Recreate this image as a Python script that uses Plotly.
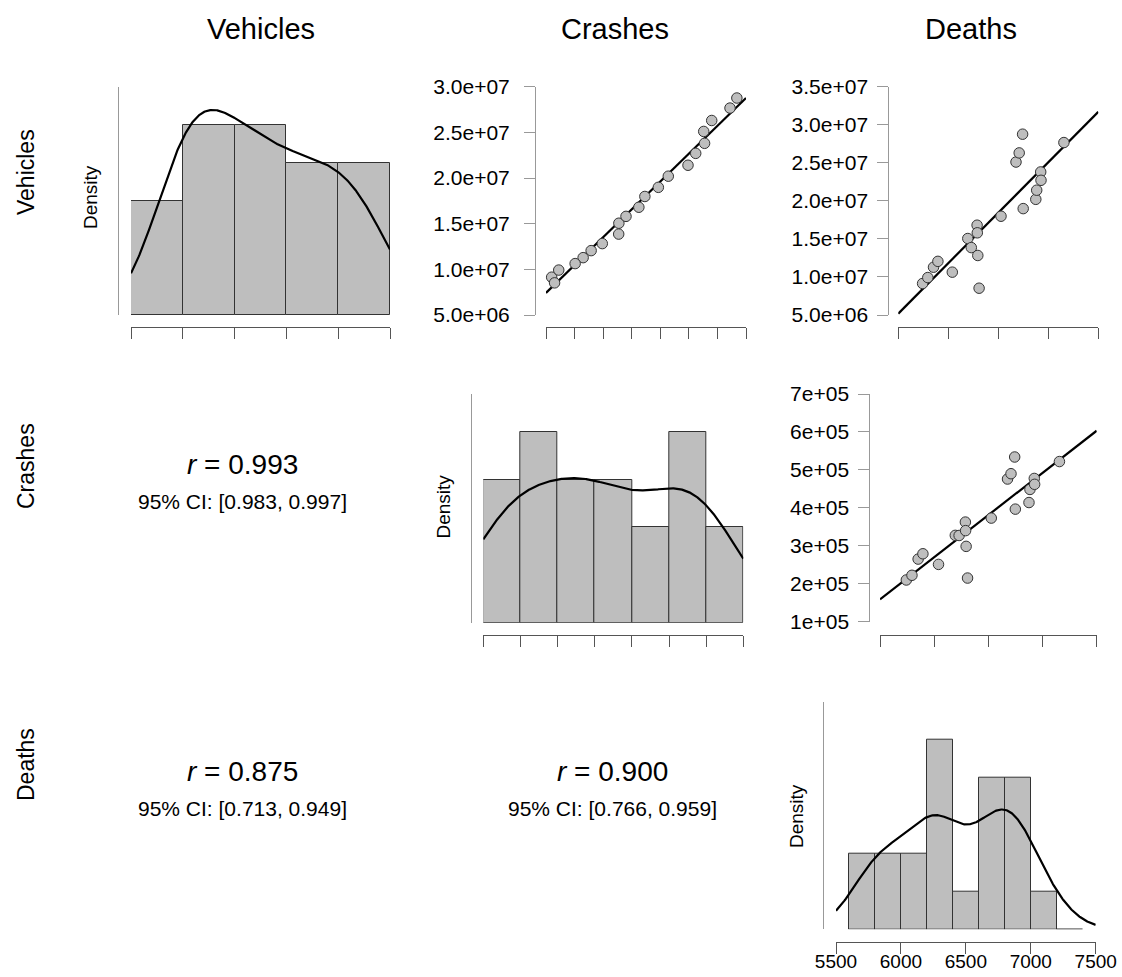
import numpy as np
import plotly.graph_objects as go

W, H = 1122, 977

# ---------------- data ----------------
variables = ["Vehicles", "Crashes", "Deaths"]
vehicles = [9.14e6, 9.92e6, 11.28e6, 12.05e6, 10.63e6, 15.05e6, 13.86e6, 16.80e6, 15.80e6, 12.82e6, 8.52e6,
            17.98e6, 25.10e6, 26.30e6, 28.76e6, 18.98e6, 20.20e6, 21.40e6, 23.80e6, 22.70e6, 27.66e6]
crashes = [209.9e3, 222.3e3, 265.0e3, 279.0e3, 251.0e3, 327.5e3, 327.2e3, 362.5e3, 340.0e3, 298.5e3, 215.0e3,
           373.0e3, 476.0e3, 490.0e3, 534.0e3, 396.6e3, 414.0e3, 448.5e3, 477.5e3, 462.0e3, 522.0e3]
deaths = [5743, 5795, 5852, 5896, 6040, 6195, 6230, 6288, 6290, 6295, 6308,
          6527, 6677, 6709, 6743, 6749, 6875, 6884, 6924, 6927, 7156]

vehicles_ticks = [5e6, 10e6, 15e6, 20e6, 25e6, 30e6]
crashes_ticks = [200e3, 250e3, 300e3, 350e3, 400e3, 450e3, 500e3, 550e3]
deaths_ticks = [5500, 6000, 6500, 7000, 7500]
deaths_tick_labels = ["5500", "6000", "6500", "7000", "7500"]

vehicles_bins = [5e6, 10e6, 15e6, 20e6, 25e6, 30e6]
crashes_bins = [200e3, 250e3, 300e3, 350e3, 400e3, 450e3, 500e3, 550e3]
deaths_bins = [5600, 5800, 6000, 6200, 6400, 6600, 6800, 7000, 7200, 7400]

veh_y_ticks_a = [5e6, 10e6, 15e6, 20e6, 25e6, 30e6]
veh_y_labels_a = ["5.0e+06", "1.0e+07", "1.5e+07", "2.0e+07", "2.5e+07", "3.0e+07"]
veh_y_ticks_b = [5e6, 10e6, 15e6, 20e6, 25e6, 30e6, 35e6]
veh_y_labels_b = ["5.0e+06", "1.0e+07", "1.5e+07", "2.0e+07", "2.5e+07", "3.0e+07", "3.5e+07"]
cra_y_ticks = [1e5, 2e5, 3e5, 4e5, 5e5, 6e5, 7e5]
cra_y_labels = ["1e+05", "2e+05", "3e+05", "4e+05", "5e+05", "6e+05", "7e+05"]

r_cells = [(1, 0), (2, 0), (2, 1)]
r_values = ["0.993", "0.875", "0.900"]
ci_values = ["[0.983, 0.997]", "[0.713, 0.949]", "[0.766, 0.959]"]

# ---------------- styling / layout geometry (page pixels) ----------------
FONT = "Liberation Sans, Arial, sans-serif"
BAR_FILL = "#bebebe"
BAR_LINE = "#333333"
AX_COL = "#555555"
YAX_COL = "#999999"

series = [vehicles, crashes, deaths]
xticks = [vehicles_ticks, crashes_ticks, deaths_ticks]
bins = [vehicles_bins, crashes_bins, deaths_bins]

hist_geom = [
    dict(x0=131, x1=390, ytop=87, ybase=315.3, yline_x=118, xline_y=326.7, dens=(90, 197)),
    dict(x0=483.3, x1=743.3, ytop=394, ybase=622.7, yline_x=470.7, xline_y=635, dens=(442.5, 507)),
    dict(x0=836, x1=1095.7, ytop=701.7, ybase=929.3, yline_x=822.7, xline_y=941.7, dens=(796, 816)),
]
scatter_geom = {
    (0, 1): dict(x0=546, x1=746, ytop=86.7, ybot=315, yline_x=535, xline_y=326.7, standoff=10,
                 yt=veh_y_ticks_a, yl=veh_y_labels_a),
    (0, 2): dict(x0=898.3, x1=1098.3, ytop=86.7, ybot=315, yline_x=888.3, xline_y=326.7, standoff=5,
                 yt=veh_y_ticks_b, yl=veh_y_labels_b),
    (1, 2): dict(x0=880, x1=1096.7, ytop=394, ybot=621.7, yline_x=869.3, xline_y=635, standoff=5,
                 yt=cra_y_ticks, yl=cra_y_labels),
}
col_title_pos = [(261, 29), (615, 29), (971, 29)]
row_label_pos = [(26, 172), (26, 466), (26, 765)]
text_col_x = [242, 612]
text_row_y = {1: (464, 501), 2: (771, 808)}


def fx(px):
    return px / W


def fy(py):
    return 1 - py / H


def bw_nrd0(x):
    x = np.asarray(x, float)
    sd = x.std(ddof=1)
    q75, q25 = np.percentile(x, [75, 25])
    lo = min(sd, (q75 - q25) / 1.34)
    return 0.9 * lo * len(x) ** (-0.2)


def kde(x, grid):
    x = np.asarray(x, float)
    h = bw_nrd0(x)
    z = (grid[:, None] - x[None, :]) / h
    return np.exp(-0.5 * z ** 2).sum(axis=1) / (len(x) * h * np.sqrt(2 * np.pi))


fig = go.Figure()
layout = {}
annotations = []
ax_i = 0


def axis_names(i):
    return ("x" if i == 1 else f"x{i}"), ("y" if i == 1 else f"y{i}"), \
           ("xaxis" if i == 1 else f"xaxis{i}"), ("yaxis" if i == 1 else f"yaxis{i}")


# ---------------- histograms on the diagonal ----------------
for k in range(3):
    ax_i += 1
    xr, yr, xk, yk = axis_names(ax_i)
    g = hist_geom[k]
    data = np.asarray(series[k], float)
    edges = np.asarray(bins[k], float)
    counts, _ = np.histogram(data, bins=edges)
    widths = np.diff(edges)
    dens = counts / (len(data) * widths)
    centers = edges[:-1] + widths / 2
    fig.add_trace(go.Bar(x=centers, y=dens, width=widths, xaxis=xr, yaxis=yr,
                         marker=dict(color=BAR_FILL, line=dict(color=BAR_LINE, width=1)),
                         showlegend=False, hoverinfo="skip"))
    lo, hi = xticks[k][0], xticks[k][-1]
    grid = np.linspace(lo, hi, 400)
    kd = kde(data, grid)
    fig.add_trace(go.Scatter(x=grid, y=kd, mode="lines", xaxis=xr, yaxis=yr,
                             line=dict(color="black", width=2.2), showlegend=False, hoverinfo="skip"))
    ymax = max(1.2 * dens.max(), 1.1 * kd.max())
    show_lab = (k == 2)
    layout[xk] = dict(domain=[fx(g["x0"]), fx(g["x1"])], range=[lo, hi], anchor="free",
                      position=fy(g["xline_y"]), showline=True, linecolor=AX_COL, linewidth=1,
                      ticks="outside", ticklen=11, tickcolor=AX_COL, tickwidth=1,
                      tickvals=xticks[k], ticktext=deaths_tick_labels if show_lab else None,
                      showticklabels=show_lab, showgrid=False, zeroline=False, automargin=False,
                      ticklabelstandoff=-9,
                      tickfont=dict(family=FONT, size=19, color="black"))
    layout[yk] = dict(domain=[fy(g["ybase"]), fy(g["ytop"])], range=[0, ymax], anchor="free",
                      position=fx(g["yline_x"]), showline=True, linecolor=YAX_COL, linewidth=1,
                      ticks="", showticklabels=False, showgrid=False, zeroline=False, automargin=False)
    annotations.append(dict(x=fx(g["dens"][0]), y=fy(g["dens"][1]), xref="paper", yref="paper",
                            text="Density", textangle=-90, showarrow=False,
                            font=dict(family=FONT, size=19, color="black"),
                            xanchor="center", yanchor="middle"))

# ---------------- scatter plots (upper triangle) ----------------
for (row, col), g in scatter_geom.items():
    ax_i += 1
    xr, yr, xk, yk = axis_names(ax_i)
    xd = np.asarray(series[col], float)
    yd = np.asarray(series[row], float)
    lo, hi = xticks[col][0], xticks[col][-1]
    slope, icpt = np.polyfit(xd, yd, 1)
    xl = np.array([lo, hi])
    fig.add_trace(go.Scatter(x=xl, y=slope * xl + icpt, mode="lines", xaxis=xr, yaxis=yr,
                             line=dict(color="black", width=2.2), showlegend=False, hoverinfo="skip"))
    fig.add_trace(go.Scatter(x=xd, y=yd, mode="markers", xaxis=xr, yaxis=yr,
                             marker=dict(size=10.5, color=BAR_FILL, line=dict(color="#333333", width=1)),
                             showlegend=False, hoverinfo="skip", cliponaxis=False))
    layout[xk] = dict(domain=[fx(g["x0"]), fx(g["x1"])], range=[lo, hi], anchor="free",
                      position=fy(g["xline_y"]), showline=True, linecolor=AX_COL, linewidth=1,
                      ticks="outside", ticklen=11, tickcolor=AX_COL, tickwidth=1, automargin=False,
                      tickvals=xticks[col], showticklabels=False, showgrid=False, zeroline=False)
    layout[yk] = dict(domain=[fy(g["ybot"]), fy(g["ytop"])], range=[g["yt"][0], g["yt"][-1]],
                      anchor="free", position=fx(g["yline_x"]), showline=True, linecolor=YAX_COL,
                      linewidth=1, ticks="outside", ticklen=11, tickcolor=YAX_COL, tickwidth=1,
                      tickvals=g["yt"], ticktext=g["yl"], ticklabelstandoff=g["standoff"],
                      tickfont=dict(family=FONT, size=21, color="black"), automargin=False,
                      showgrid=False, zeroline=False)

# ---------------- correlation text (lower triangle) ----------------
for (row, col), rv, ci in zip(r_cells, r_values, ci_values):
    ry, cy = text_row_y[row]
    annotations.append(dict(x=fx(text_col_x[col]), y=fy(ry), xref="paper", yref="paper",
                            text=f"<i>r</i> = {rv}", showarrow=False,
                            font=dict(family=FONT, size=28, color="black"),
                            xanchor="center", yanchor="middle"))
    annotations.append(dict(x=fx(text_col_x[col]), y=fy(cy), xref="paper", yref="paper",
                            text=f"95% CI: {ci}", showarrow=False,
                            font=dict(family=FONT, size=21, color="black"),
                            xanchor="center", yanchor="middle"))

# ---------------- titles ----------------
for name, (cx, cy) in zip(variables, col_title_pos):
    annotations.append(dict(x=fx(cx), y=fy(cy), xref="paper", yref="paper", text=name,
                            showarrow=False, font=dict(family=FONT, size=29, color="black"),
                            xanchor="center", yanchor="middle"))
for name, (cx, cy) in zip(variables, row_label_pos):
    annotations.append(dict(x=fx(cx), y=fy(cy), xref="paper", yref="paper", text=name,
                            textangle=-90, showarrow=False,
                            font=dict(family=FONT, size=23, color="black"),
                            xanchor="center", yanchor="middle"))

fig.update_layout(width=W, height=H, margin=dict(l=0, r=0, t=0, b=0, pad=0, autoexpand=False),
                  paper_bgcolor="white", plot_bgcolor="white",
                  bargap=0, showlegend=False, annotations=annotations, **layout)

# remove the browser's default 8px page margin so the figure fills the window exactly
fig.write_html("out.html", config={"displayModeBar": False},
               post_script="document.body.style.margin='0';document.body.style.overflow='hidden';")
